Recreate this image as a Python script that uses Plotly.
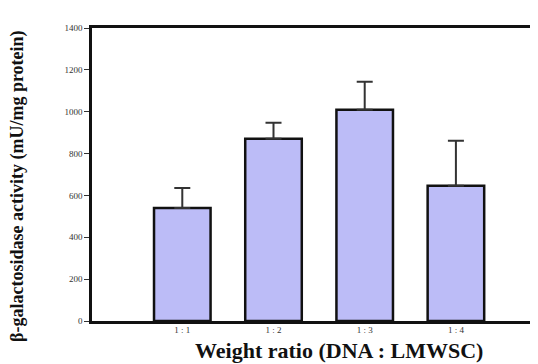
import plotly.graph_objects as go

categories = ["1 : 1", "1 : 2", "1 : 3", "1 : 4"]
activity = [540, 871, 1009, 646]
error_upper = [96, 76, 134, 215]
y_ticks = [0, 200, 400, 600, 800, 1000, 1200, 1400]

W, H = 530, 356
L, T, B = 84, 20, 43
PW, PH = W - L, H - T - B

def px_x(x):
    return (x - L) / PW

def px_y(y):
    return (H - B - y) / PH

fig = go.Figure()
fig.add_trace(go.Bar(
    x=list(range(len(categories))),
    y=activity,
    width=0.62,
    marker=dict(color="#bcbcf7", line=dict(color="#111111", width=2.5)),
    error_y=dict(type="data", symmetric=False, array=error_upper,
                 arrayminus=[0] * len(activity), color="#333333",
                 thickness=2, width=8),
))

serif = "Liberation Serif, Times New Roman, serif"
fig.update_layout(
    width=W, height=H,
    margin=dict(l=L, r=0, t=T, b=B, autoexpand=False),
    paper_bgcolor="white", plot_bgcolor="white",
    showlegend=False,
    xaxis=dict(
        range=[-0.99, 3.9],
        tickmode="array", tickvals=list(range(len(categories))), ticktext=categories,
        showline=True, linecolor="#111111", linewidth=2.5, mirror=True,
        ticks="", showgrid=False, zeroline=False, ticklabelstandoff=-2,
        tickfont=dict(family=serif, size=9, color="#333333"),
    ),
    yaxis=dict(
        range=[0, 1400],
        tickmode="array", tickvals=y_ticks, ticktext=[str(v) for v in y_ticks],
        showline=True, linecolor="#111111", linewidth=2.5,
        ticks="outside", ticklen=5, tickwidth=1, tickcolor="#333333",
        showgrid=False, zeroline=False,
        tickfont=dict(family=serif, size=9, color="#333333"),
    ),
    annotations=[
        dict(text="<b>Weight ratio (DNA : LMWSC)</b>", xref="paper", yref="paper",
             x=px_x(331), y=px_y(342), xanchor="center", yanchor="middle", showarrow=False,
             font=dict(family=serif, size=22, color="#111111")),
        dict(text="<b>β-galactosidase activity (mU/mg protein)</b>", xref="paper", yref="paper",
             x=px_x(9), y=px_y(178), xanchor="center", yanchor="middle", showarrow=False,
             textangle=-90,
             font=dict(family=serif, size=18, color="#111111")),
    ],
)

fig.write_html("out.html")
